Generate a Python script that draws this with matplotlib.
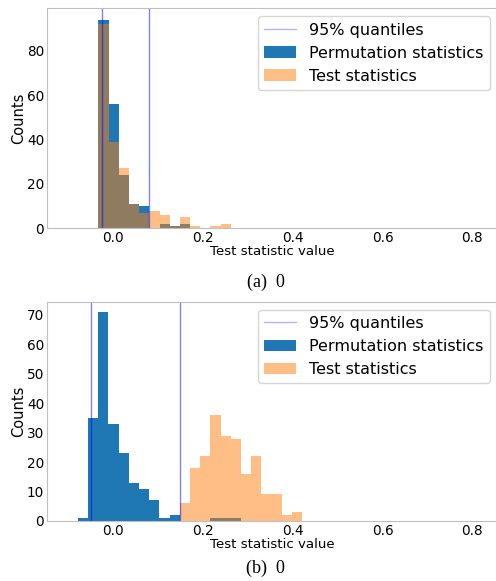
import matplotlib.pyplot as plt
import numpy as np

# Histogram bin edges and counts
edges_a = [-0.0334, -0.0107, 0.0120, 0.0347, 0.0574, 0.0801, 0.1028,
           0.1255, 0.1482, 0.1709, 0.1936, 0.2163, 0.2390, 0.2617]
perm_a = [94, 56, 24, 11, 10, 0, 2, 1, 2, 0, 0, 0, 0]
test_a = [92, 39, 27, 11, 7, 8, 6, 1, 5, 1, 0, 1, 2]
quant_a = [-0.025, 0.080]

edges_b = [-0.0793, -0.0566, -0.0338, -0.0111, 0.0117, 0.0344, 0.0571,
           0.0799, 0.1026, 0.1254, 0.1481, 0.1708, 0.1936, 0.2163,
           0.2391, 0.2618, 0.2845, 0.3073, 0.3300, 0.3528, 0.3755,
           0.3982, 0.4210]
perm_b = [1, 35, 71, 33, 23, 13, 11, 7, 1, 2, 0, 0, 0, 1, 1, 1,
          0, 0, 0, 0, 0, 0]
test_b = [0, 0, 0, 0, 0, 0, 0, 0, 0, 0, 6, 18, 22, 36, 29, 28,
          16, 22, 9, 9, 2, 3]
quant_b = [-0.050, 0.149]

captions = ['(a)  0', '(b)  0']

fig = plt.figure(figsize=(4.96, 5.81), dpi=100)
ax_a = fig.add_axes([0.0948, 0.607, 0.909, 0.3787])
ax_b = fig.add_axes([0.0948, 0.1033, 0.909, 0.3774])

panels = [
    (ax_a, edges_a, perm_a, test_a, quant_a, 99.1),
    (ax_b, edges_b, perm_b, test_b, quant_b, 74.5),
]

for ax, edges, perm, test, quant, ytop in panels:
    centers = (np.array(edges[:-1]) + np.array(edges[1:])) / 2
    ax.hist(centers, bins=edges, weights=perm, color='tab:blue',
            label='Permutation statistics')
    ax.hist(centers, bins=edges, weights=test, color='tab:orange',
            alpha=0.5, label='Test statistics')
    for i, q in enumerate(quant):
        ax.axvline(q, color='b', alpha=0.5, lw=1,
                   label='95% quantiles' if i == 0 else None)

    ax.set_xlim(-0.148, 0.857)
    ax.set_ylim(0, ytop)
    ax.set_xticks([0.0, 0.2, 0.4, 0.6, 0.8])
    ax.set_xlabel('Test statistic value', fontsize=9.6, labelpad=0)
    ax.set_ylabel('Counts', fontsize=10.5, labelpad=0.5)
    ax.tick_params(length=0, labelsize=9.8, pad=2)
    for sp in ax.spines.values():
        sp.set_color('#bfbfbf')

    # quantile line first, then the two histograms
    handles, labels = ax.get_legend_handles_labels()
    order = [labels.index(l) for l in
             ['95% quantiles', 'Permutation statistics', 'Test statistics']]
    leg = ax.legend([handles[i] for i in order], [labels[i] for i in order],
                    loc='upper right', fontsize=11.5)
    leg.get_lines()[0].set_alpha(0.3)

# LaTeX-style subfigure captions
fig.text(0.536, 0.5146, captions[0], ha='center', va='center',
         family='Liberation Serif', fontsize=13)
fig.text(0.536, 0.0224, captions[1], ha='center', va='center',
         family='Liberation Serif', fontsize=13)

fig.savefig('out.png', dpi=100)
